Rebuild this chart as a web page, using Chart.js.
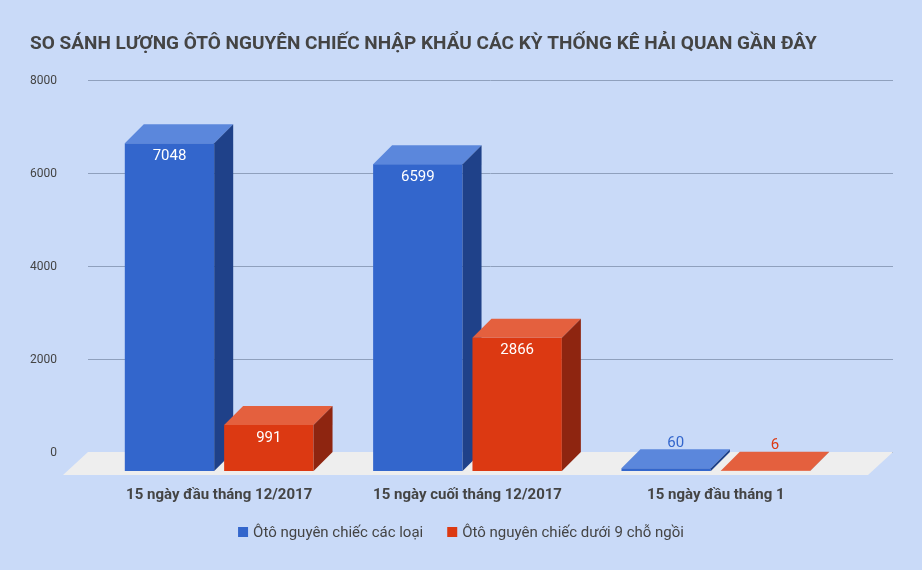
<!DOCTYPE html><html><head><meta charset="utf-8">
<script src="https://cdn.jsdelivr.net/npm/chart.js@4/dist/chart.umd.min.js"></script>
<style>html,body{margin:0;background:#c9daf8}#w{width:922px;height:570px}</style></head><body><div id="w"><canvas id="c"></canvas></div>
<script>
const title='SO SÁNH LƯỢNG ÔTÔ NGUYÊN CHIẾC NHẬP KHẨU CÁC KỲ THỐNG KÊ HẢI QUAN GẦN ĐÂY';
const categories=['15 ngày đầu tháng 12/2017','15 ngày cuối tháng 12/2017','15 ngày đầu tháng 1'];
const seriesNames=['Ôtô nguyên chiếc các loại','Ôtô nguyên chiếc dưới 9 chỗ ngồi'];
const allCars=[7048,6599,60];
const under9=[991,2866,6];
const yTicks=[0,2000,4000,6000,8000];
const frontCol=['#3366cc','#dc3912'],sideCol=['#1f4189','#8e2510'],topCol=['#5b87dc','#e4603e'];
const D=19, F='Roboto, sans-serif';
const plug={id:'p3d',
beforeDatasetsDraw(ch){
 const c=ch.ctx,y=ch.scales.y;
 c.save();
 c.strokeStyle='#8fa0bd';c.lineWidth=1;c.fillStyle='#444';c.font='12px '+F;c.textAlign='right';c.textBaseline='middle';
 yTicks.forEach(t=>{const py=Math.round(y.getPixelForValue(t))+0.5;c.beginPath();c.moveTo(88,py);c.lineTo(893,py);c.stroke();c.fillText(String(t),57,py);});
 const b=y.getPixelForValue(0);
 c.fillStyle='#eeeeee';c.beginPath();c.moveTo(88,b);c.lineTo(893,b);c.lineTo(868,b+23);c.lineTo(63,b+23);c.closePath();c.fill();
 c.textAlign='left';c.textBaseline='alphabetic';c.fillStyle='#444';c.font='bold 19px '+F;c.fillText(title,30,49);
 c.textAlign='center';c.font='bold 15px '+F;
 categories.forEach((t,i)=>c.fillText(t,ch.scales.x.getPixelForTick(i),499));
 c.font='15px '+F;c.textAlign='left';c.textBaseline='middle';
 const w0=c.measureText(seriesNames[0]).width,w1=c.measureText(seriesNames[1]).width;
 let lx=(922-(15+w0+24+15+w1))/2;const ly=532;
 [w0,w1].forEach((w,i)=>{c.fillStyle=frontCol[i];c.fillRect(lx,ly-5,10,10);c.fillStyle='#444';c.fillText(seriesNames[i],lx+15,ly+1);lx+=15+w+24;});
 ch.data.datasets.forEach((ds,di)=>{ch.getDatasetMeta(di).data.forEach((el,i)=>{
  const x0=el.x-el.width/2,x1=el.x+el.width/2,ty=el.y+D,by=el.base+D,v=ds.data[i];
  c.fillStyle=frontCol[di];c.fillRect(x0,ty,x1-x0,by-ty);
  c.fillStyle=topCol[di];c.beginPath();c.moveTo(x0,ty);c.lineTo(x1,ty);c.lineTo(x1+D,ty-D);c.lineTo(x0+D,ty-D);c.closePath();c.fill();
  c.fillStyle=sideCol[di];c.beginPath();c.moveTo(x1,ty);c.lineTo(x1+D,ty-D);c.lineTo(x1+D,by-D);c.lineTo(x1,by);c.closePath();c.fill();
  c.font='15px '+F;c.textAlign='center';c.textBaseline='middle';
  if(by-ty>40){c.fillStyle='#fff';c.fillText(String(v),el.x,ty+13);}else{c.fillStyle=frontCol[di];c.fillText(String(v),el.x+D/2,ty-D-6);}
 });});
 c.restore();return false;}};
new Chart(document.getElementById('c'),{type:'bar',
data:{labels:categories,datasets:[{label:seriesNames[0],data:allCars,backgroundColor:frontCol[0]},{label:seriesNames[1],data:under9,backgroundColor:frontCol[1]}]},
options:{responsive:true,maintainAspectRatio:false,animation:false,
layout:{padding:{left:95,right:82,top:80,bottom:118}},
plugins:{legend:{display:false},tooltip:{enabled:false}},
scales:{x:{display:false,categoryPercentage:0.652,barPercentage:1},y:{display:false,min:0,max:8000}}},
plugins:[plug]});
</script></body></html>
